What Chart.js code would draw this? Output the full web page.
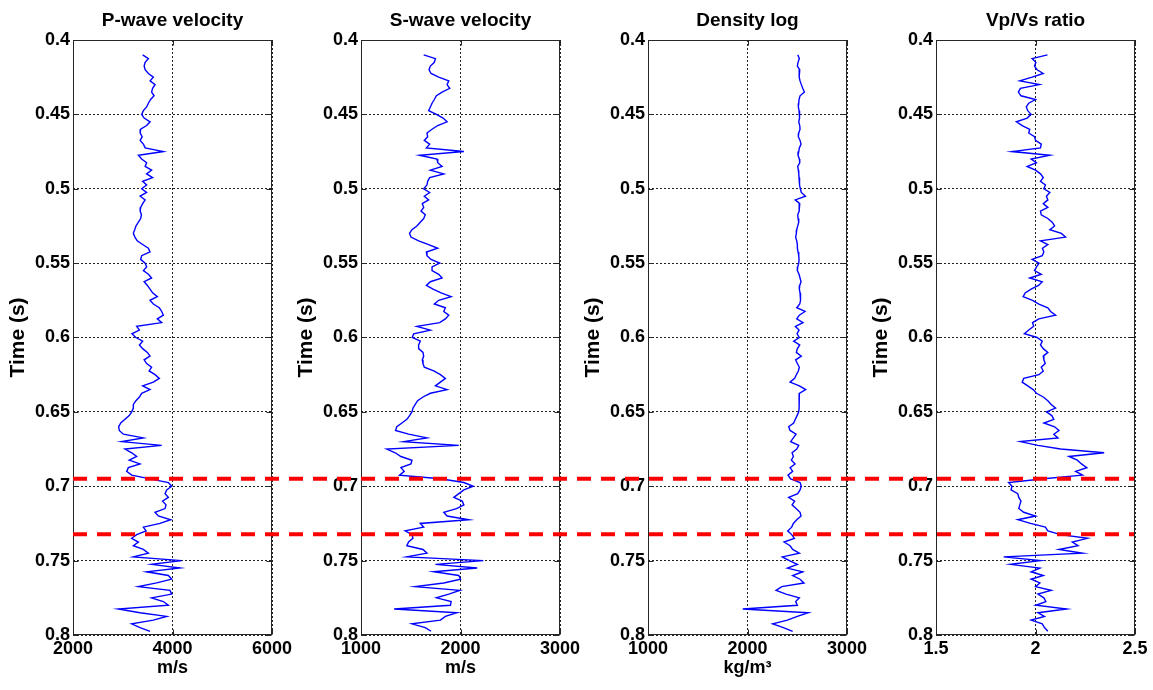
<!DOCTYPE html>
<html>
<head>
<meta charset="utf-8">
<title>Well logs</title>
<script src="https://cdn.jsdelivr.net/npm/chart.js@4.4.0/dist/chart.umd.min.js"></script>
<style>
  html, body { margin: 0; padding: 0; background: #fff; }
  #wrap { position: relative; width: 1153px; height: 690px; overflow: hidden; }
  #wrap canvas { position: absolute; top: 0; }
  #markers { pointer-events: none; }
</style>
</head>
<body>
<div id="wrap">
  <canvas id="logP" width="345" height="690"></canvas>
  <canvas id="logS" width="345" height="690"></canvas>
  <canvas id="logRho" width="345" height="690"></canvas>
  <canvas id="logRatio" width="345" height="690"></canvas>
  <canvas id="markers" width="1153" height="690"></canvas>
</div>
<script>
// two-way time samples (s)
var times = [
  0.41,0.4125,0.415,0.4175,0.42,0.4225,0.425,0.4275,0.43,0.4325,
  0.435,0.4375,0.44,0.4425,0.445,0.4475,0.45,0.4525,0.455,0.4575,
  0.46,0.4625,0.465,0.4675,0.47,0.4725,0.475,0.4775,0.48,0.4825,
  0.485,0.4875,0.49,0.4925,0.495,0.4975,0.5,0.5025,0.505,0.5075,
  0.51,0.5125,0.515,0.5175,0.52,0.5225,0.525,0.5275,0.53,0.5325,
  0.535,0.5375,0.54,0.5425,0.545,0.5475,0.55,0.5525,0.555,0.5575,
  0.56,0.5625,0.565,0.5675,0.57,0.5725,0.575,0.5775,0.58,0.5825,
  0.585,0.5875,0.59,0.5925,0.595,0.5975,0.6,0.6025,0.605,0.6075,
  0.61,0.6125,0.615,0.6175,0.62,0.6225,0.625,0.6275,0.63,0.6325,
  0.635,0.6375,0.64,0.6425,0.645,0.6475,0.65,0.6525,0.655,0.6575,
  0.66,0.6625,0.665,0.6675,0.67,0.6725,0.675,0.6775,0.68,0.6825,
  0.685,0.6875,0.69,0.6925,0.695,0.6975,0.7,0.7025,0.705,0.7075,
  0.71,0.7125,0.715,0.7175,0.72,0.7225,0.725,0.7275,0.73,0.7325,
  0.735,0.7375,0.74,0.7425,0.745,0.7475,0.75,0.7525,0.755,0.7575,
  0.76,0.7625,0.765,0.7675,0.77,0.7725,0.775,0.7775,0.78,0.7825,
  0.785,0.7875,0.79,0.7925,0.795,0.7975
];

// P-wave velocity (m/s)
var vp = [
  3400,3515,3450,3430,3450,3515,3615,3550,3650,3600,
  3580,3630,3560,3515,3480,3415,3380,3430,3550,3480,
  3360,3350,3390,3350,3415,3450,3816,3315,3380,3480,
  3450,3580,3480,3600,3400,3480,3380,3480,3350,3450,
  3400,3360,3350,3375,3360,3315,3265,3240,3213,3245,
  3290,3400,3515,3548,3380,3360,3450,3480,3415,3515,
  3580,3430,3495,3548,3600,3695,3548,3615,3735,3783,
  3816,3695,3783,3280,3335,3185,3265,3400,3335,3400,
  3495,3548,3430,3480,3580,3530,3650,3735,3615,3400,
  3548,3380,3335,3265,3213,3213,3180,3130,3045,2960,
  2918,2930,3012,3414,2980,3783,3045,3180,3280,3130,
  3347,3113,3079,3180,3548,3917,3984,3883,3850,3917,
  3800,3870,3850,3648,3715,3963,3749,3414,3470,3280,
  3180,3315,3213,3414,3515,3213,4185,3580,4150,3481,
  3917,3984,3682,3315,3950,3984,3580,3816,3917,2912,
  3347,3883,3615,3180,3347,3548
];

// S-wave velocity (m/s)
var vs = [
  1630,1748,1737,1697,1684,1704,1781,1882,1865,1892,
  1815,1758,1737,1714,1697,1680,1758,1825,1865,1771,
  1714,1663,1670,1636,1690,1657,2034,1589,1764,1771,
  1815,1697,1832,1690,1670,1663,1630,1690,1636,1680,
  1616,1630,1603,1646,1630,1596,1562,1512,1488,1502,
  1579,1680,1771,1657,1663,1704,1791,1714,1714,1781,
  1815,1697,1657,1724,1805,1906,1781,1737,1848,1832,
  1882,1848,1791,1562,1697,1529,1515,1596,1579,1579,
  1623,1630,1616,1623,1636,1731,1798,1848,1798,1748,
  1865,1697,1623,1569,1545,1522,1512,1488,1461,1411,
  1360,1347,1478,1663,1428,1983,1259,1344,1401,1512,
  1502,1401,1434,1387,1798,2034,2128,2034,1983,1933,
  2017,2034,1960,1832,1865,2084,1596,1630,1444,1512,
  1522,1478,1461,1623,1663,1461,2229,1748,2168,1731,
  1983,2000,1832,1545,1993,1882,1758,1906,1899,1333,
  1966,1848,1798,1512,1646,1704
];

// bulk density (kg/m3)
var rho = [
  2505,2521,2508,2501,2525,2521,2518,2528,2541,2555,
  2572,2528,2518,2515,2511,2518,2525,2521,2515,2525,
  2528,2515,2511,2528,2538,2521,2515,2508,2521,2525,
  2505,2511,2515,2518,2521,2525,2531,2541,2582,2480,
  2525,2521,2518,2505,2508,2515,2505,2495,2491,2484,
  2495,2501,2501,2508,2515,2518,2515,2505,2501,2518,
  2528,2538,2525,2521,2528,2531,2535,2525,2495,2578,
  2521,2495,2558,2481,2518,2498,2521,2464,2525,2501,
  2491,2541,2484,2501,2521,2511,2491,2474,2428,2521,
  2585,2521,2521,2518,2518,2518,2515,2498,2481,2464,
  2414,2428,2488,2461,2434,2515,2495,2448,2461,2441,
  2478,2428,2454,2407,2434,2528,2541,2528,2505,2414,
  2474,2448,2488,2528,2538,2495,2461,2444,2404,2444,
  2471,2367,2428,2454,2521,2350,2421,2501,2401,2555,
  2454,2528,2568,2344,2287,2387,2521,2484,2501,1952,
  2612,2501,2401,2253,2361,2454
];

// Vp/Vs ratio
var vpvs = [
  2.06,1.983,2.002,1.995,2.008,2.039,1.983,1.921,2.02,1.924,
  1.914,1.927,2.0,1.966,1.954,1.961,1.978,1.958,1.904,1.933,
  1.971,1.966,1.995,2.0,2.029,2.025,1.882,2.072,1.978,2.005,
  1.958,2.0,2.025,2.039,2.025,2.05,2.042,2.072,2.055,2.062,
  2.039,2.062,2.025,2.029,2.062,2.084,2.096,2.072,2.13,2.151,
  2.025,2.062,2.035,2.042,2.034,1.983,2.018,2.005,1.995,2.029,
  1.971,2.034,2.015,1.978,1.948,1.938,1.985,2.017,2.062,2.076,
  2.101,2.017,1.985,1.991,1.966,1.944,2.008,2.034,2.025,2.039,
  2.062,2.039,2.042,2.049,2.029,2.039,2.017,1.941,1.933,1.961,
  1.988,2.005,2.039,2.062,2.079,2.101,2.055,2.082,2.092,2.042,
  2.096,2.118,2.092,2.113,1.924,2.012,2.126,2.345,2.168,2.21,
  2.231,2.258,2.202,2.236,2.042,1.865,1.882,1.877,1.911,1.916,
  1.927,1.921,1.916,1.941,2.0,1.911,1.975,2.05,2.062,2.126,
  2.261,2.185,2.214,2.118,2.236,1.84,2.025,1.874,2.022,1.978,
  2.039,1.978,2.022,2.0,2.079,2.012,2.042,2.052,2.002,2.156,
  2.012,2.045,1.978,2.034,2.045,2.062
];

// horizon picks (s), drawn across all tracks
var horizonTimes = [0.695, 0.7323];
var horizonSpan = [0, 1];

var timeMin = 0.4, timeMax = 0.8, timeStep = 0.05;

var tracks = [
  { id: 'logP',     title: 'P-wave velocity', unit: 'm/s',   min: 2000, max: 6000, step: 2000, values: vp },
  { id: 'logS',     title: 'S-wave velocity', unit: 'm/s',   min: 1000, max: 3000, step: 1000, values: vs },
  { id: 'logRho',   title: 'Density log',     unit: 'kg/m³', min: 1000, max: 3000, step: 1000, values: rho },
  { id: 'logRatio', title: 'Vp/Vs ratio',     unit: '',      min: 1.5,  max: 2.5,  step: 0.5,  values: vpvs }
];

// left edge of each plot box on the page
var plotLeft = [73, 361, 648, 936];
var axisGutter = 73;

var FONT = 'Liberation Sans, Arial, Helvetica, sans-serif';
Chart.defaults.font.family = FONT;
Chart.defaults.color = '#000';

function fmt(v) {
  return String(+Number(v).toFixed(2));
}

// MATLAB-like box with inward tick marks
var boxFrame = {
  id: 'boxFrame',
  afterDatasetsDraw: function (chart) {
    var ctx = chart.ctx;
    var a = chart.chartArea;
    var xs = chart.scales.x, ys = chart.scales.y;
    var L = Math.round(a.left) + 0.5, R = Math.round(a.right) - 0.5;
    var T = Math.round(a.top) + 0.5, B = Math.round(a.bottom) - 0.5;
    ctx.save();
    ctx.strokeStyle = '#262626';
    ctx.lineWidth = 1;
    ctx.setLineDash([]);
    ctx.beginPath();
    ys.ticks.forEach(function (t) {
      var py = Math.round(ys.getPixelForValue(t.value)) + 0.5;
      ctx.moveTo(L, py); ctx.lineTo(L + 5, py);
      ctx.moveTo(R, py); ctx.lineTo(R - 5, py);
    });
    xs.ticks.forEach(function (t) {
      var px = Math.round(xs.getPixelForValue(t.value)) + 0.5;
      ctx.moveTo(px, B); ctx.lineTo(px, B - 5);
      ctx.moveTo(px, T); ctx.lineTo(px, T + 5);
    });
    ctx.stroke();
    ctx.strokeRect(L, T, R - L, B - T);
    ctx.restore();
  }
};

tracks.forEach(function (tr, i) {
  var canvas = document.getElementById(tr.id);
  canvas.style.left = (plotLeft[i] - axisGutter) + 'px';

  var points = times.map(function (t, k) { return { x: tr.values[k], y: t }; });

  new Chart(canvas, {
    type: 'scatter',
    data: {
      datasets: [{
        data: points,
        showLine: true,
        borderColor: '#0000ff',
        borderWidth: 1.4,
        pointRadius: 0,
        tension: 0
      }]
    },
    options: {
      responsive: false,
      animation: false,
      layout: { padding: { left: 0, right: axisGutter, top: 0, bottom: 0 } },
      plugins: {
        legend: { display: false },
        tooltip: { enabled: false },
        title: {
          display: true,
          fullSize: false,   // centre over the plot box, not the canvas
          text: tr.title,
          color: '#000',
          font: { size: 19, weight: 'bold' },
          padding: { top: 9, bottom: 8.2 }
        }
      },
      scales: {
        x: {
          type: 'linear',
          min: tr.min,
          max: tr.max,
          afterFit: function (s) { s.height = 55; },
          ticks: {
            stepSize: tr.step,
            autoSkip: false,
            maxRotation: 0,
            padding: 3,
            font: { size: 18, weight: 'bold' },
            callback: fmt
          },
          grid: { color: '#222', lineWidth: 1, drawTicks: false },
          border: { display: false, dash: [2, 2] },
          title: {
            display: tr.unit !== '',
            text: tr.unit,
            font: { size: 18, weight: 'bold' },
            padding: { top: 0, bottom: 11 }
          }
        },
        y: {
          type: 'linear',
          min: timeMin,
          max: timeMax,
          reverse: true,
          afterFit: function (s) { s.width = axisGutter; },
          ticks: {
            stepSize: timeStep,
            padding: 3,
            font: { size: 18, weight: 'bold' },
            callback: fmt
          },
          grid: { color: '#222', lineWidth: 1, drawTicks: false },
          border: { display: false, dash: [2, 2] },
          title: {
            display: true,
            text: 'Time (s)',
            font: { size: 21, weight: 'bold' },
            padding: { top: 6, bottom: 0 }
          }
        }
      }
    },
    plugins: [boxFrame]
  });
});

// dashed horizon lines spanning every track
new Chart(document.getElementById('markers'), {
  type: 'scatter',
  data: {
    datasets: horizonTimes.map(function (t) {
      return {
        data: horizonSpan.map(function (s) { return { x: s, y: t }; }),
        showLine: true,
        borderColor: '#ff0000',
        borderWidth: 4,
        borderDash: [14, 10],
        pointRadius: 0
      };
    })
  },
  options: {
    responsive: false,
    animation: false,
    layout: { padding: { left: 73, right: 19, top: 40, bottom: 55 } },
    plugins: { legend: { display: false }, tooltip: { enabled: false } },
    scales: {
      x: { type: 'linear', min: 0, max: 1, display: false },
      y: { type: 'linear', min: timeMin, max: timeMax, reverse: true, display: false }
    }
  }
});
</script>
</body>
</html>
